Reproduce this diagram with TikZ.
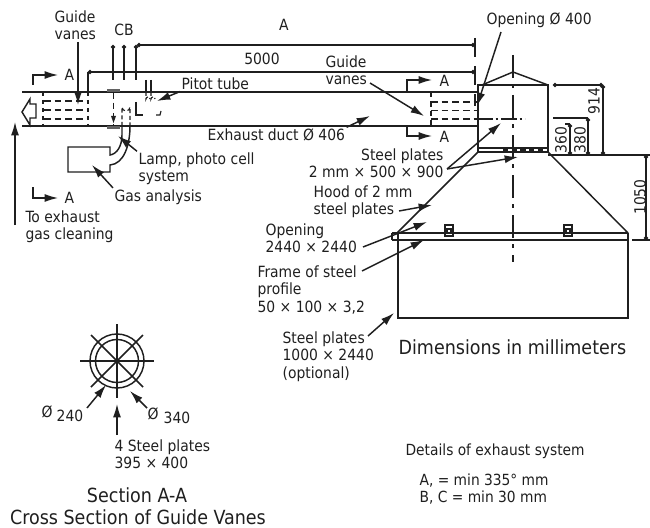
\documentclass[tikz,border=0pt]{standalone}
\usepackage{fontspec}
\setmainfont{DejaVu Sans Condensed}
\usetikzlibrary{arrows.meta}
\colorlet{ink}{black!88}
\tikzset{
 x=0.75pt,y=-0.75pt,
 every node/.style={text=ink,inner sep=1pt},
 line/.style={draw=ink,line width=1.1pt},
 thin line/.style={draw=ink,line width=0.85pt},
 lead/.style={draw=ink,line width=1.1pt,-{Latex[length=10pt,width=6pt]}},
 dim/.style={draw=ink,line width=1.1pt,{Circle[length=3pt]}-{Circle[length=3pt]}},
 vane/.style={draw=ink,line width=1.1pt,dash pattern=on 5pt off 3pt},
 lbl/.style={font=\fontsize{11.6}{13}\selectfont,align=left,anchor=west},
 big/.style={font=\fontsize{14.6}{16}\selectfont,align=center},
 small/.style={font=\fontsize{11.5}{13.2}\selectfont,align=left,anchor=west},
 rot/.style={font=\fontsize{11.6}{13}\selectfont,rotate=90},
}
\begin{document}
\begin{tikzpicture}
\useasboundingbox (0,0) rectangle (650,528);
% duct
\draw[line] (22,92) -- (477,92);
\draw[line] (22,126) -- (477,126);
% exit arrow
\draw[line,line join=miter] (22,112) -- (30,99) -- (30,104) -- (36,104) -- (36,118) -- (30,118) -- (30,125) -- cycle;
\coordinate (c0) at (15,225); \coordinate (c1) at (15,122);
\draw[lead] (c0) -- (c1);
% section arrows
\coordinate (s1) at (58,75); \coordinate (s2) at (58,198); \coordinate (s3) at (432,80); \coordinate (s4) at (432,136);
\draw[lead] (33,85) |- (s1);
\draw[lead] (33,187) |- (s2);
\draw[lead] (407,92) |- (s3);
\draw[lead] (407,126) |- (s4);
\node[lbl] (a1) at (63,75) {A};
\node[lbl] (a2) at (63,198) {A};
\node[lbl] (a3) at (438,81) {A};
\node[lbl] (a4) at (438,137) {A};
% guide vanes left
\foreach \y in {101,110,119} {\draw[vane] (44,\y) -- (88,\y);}
\draw[thin line,dash pattern=on 3pt off 3pt] (43,92) -- (43,126);
\draw[thin line,dash pattern=on 3pt off 3pt] (88,92) -- (88,126);
% guide vanes right
\foreach \y in {102,110.5} {\draw[vane] (431,\y) -- (477,\y);}
\draw[vane] (431,119) -- (477,119);
\draw[thin line,dash pattern=on 4pt off 3pt] (431,92) -- (431,126);
\draw[draw=ink,line width=1.1pt,dash pattern=on 12pt off 2pt on 2pt off 2pt] (477,119) -- (525,119);
% lamp
\fill[ink!70] (107,89) rectangle (120,92);
\fill[ink!70] (107,126) rectangle (120,129);
\draw[thin line,dash pattern=on 5pt off 3pt] (113.5,92) -- (113.5,126);
\fill[ink] (111,116) -- (116,116) -- (113.5,123) -- cycle;
% U tube + gas box
\draw[thin line,dash pattern=on 3pt off 2pt] (122,126) -- (122,107) arc[start angle=180,end angle=0,radius=4] -- (130,126);
\draw[line] (122,126) -- (122,135) .. controls (122,146) and (117,154) .. (110,155) -- (110,147) -- (68,147) -- (68,172) -- (110,172) -- (110,165) .. controls (124,164) and (130,145) .. (130,126);
% pitot
\draw[line] (146,80) -- (146,92);
\draw[line] (151,80) -- (151,92);
\draw[thin line,dash pattern=on 3pt off 1.5pt] (146,92) -- (146,99) arc[start angle=180,end angle=360,radius=2];
\draw[thin line,dash pattern=on 3pt off 1.5pt] (151,92) -- (151,99) arc[start angle=180,end angle=360,radius=2];
\draw[thin line] (136,102) -- (136,115) -- (143,115);
\draw[thin line] (156,115) -- (160,115) -- (161,111);
% dimension lines
\draw[dim] (137,45) -- (475,45);
\draw[dim] (88,72) -- (475,72);
\draw[line] (88,72) -- (88,92);
\foreach \x in {113,124,136} {\draw[line,{Circle[length=3pt]}-] (\x,45) -- (\x,80);}
\draw[thin line,dash pattern=on 14pt off 7pt] (475,38) -- (475,106);
% stack
\draw[line] (478,126) -- (478,85) -- (548,85) -- (548,152) -- (478,152) -- (478,126);
\draw[line] (478,148) -- (548,148);
\draw[line] (482,85) -- (513,72) -- (548,85);
\draw[draw=ink,line width=1.5pt,dash pattern=on 4pt off 2.5pt] (503,150) -- (546,150);
\draw[draw=ink,line width=1.1pt,dash pattern=on 17pt off 5pt on 3pt off 5pt] (513,55) -- (513,262);
% hood
\draw[line] (478,152) -- (397,233);
\draw[line] (548,152) -- (628,233);
\draw[line] (392,233) -- (628,233);
\draw[line] (392,240) -- (628,240);
\draw[line] (392,233) -- (392,240);
\draw[line] (398,233) -- (398,318) -- (628,318) -- (628,233);
\foreach \x in {445,564} {
  \draw[line] (\x,225) rectangle (\x+8,236);
  \draw[thin line] (\x+2,229) rectangle (\x+6,233);
}
% right dimensions
\draw[line] (548,155) -- (650,155);
\draw[dim] (553,85) -- (603,85);
\draw[line,{Circle[length=3pt]}-{Circle[length=3pt]}] (603,85) -- (603,155);
\draw[line] (553,118) -- (588,118);
\draw[line,{Circle[length=3pt]}-{Circle[length=3pt]}] (588,118) -- (588,155);
\draw[line] (565,124) -- (570,124);
\draw[line,{Circle[length=3pt]}-{Circle[length=3pt]}] (570,124) -- (570,155);
\draw[line,{Circle[length=3pt]}-{Circle[length=3pt]}] (646,155) -- (646,240);
\draw[line] (632,240) -- (650,240);
\node[rot] (d914) at (594,101) {914};
\node[rot] (d380) at (580,140) {380};
\node[rot] (d360) at (561,140) {360};
\node[rot] (d1050) at (640,197) {1050};
% labels top
\node[lbl] (gv1) at (53,25.5) {Guide\\vanes};
\coordinate (gv1t) at (78,105);
\draw[lead] (gv1.south -| gv1t) -- (gv1t);
\node[lbl,anchor=center] (cb) at (124,30) {CB};
\node[lbl,anchor=center] (da) at (284,25) {A};
\node[lbl,anchor=center] (d5) at (262,59) {5000};
\node[lbl] (pit) at (180,84) {Pitot tube};
\coordinate (pitt) at (157,101);
\draw[lead] (pit.south west) -- (pitt);
\node[lbl] (duct) at (206,135) {Exhaust duct Ø 406};
\coordinate (ductt) at (370,116);
\draw[lead] (duct.north east) -- (ductt);
\node[lbl] (lamp) at (137,169) {Lamp, photo cell\\system};
\coordinate (lampt) at (118,136);
\draw[lead] (lamp.north west) -- (lampt);
\node[lbl] (gas) at (113,197) {Gas analysis};
\coordinate (gast) at (92,165);
\draw[lead] (gas.north west) -- (gast);
\node[lbl] (tox) at (24,227) {To exhaust\\gas cleaning};
\node[lbl] (op) at (485,20) {Opening Ø 400};
\coordinate (opf) at (501,32); \coordinate (opt) at (477,106);
\draw[lead] (opf) -- (opt);
\node[lbl] (gv2) at (324,70) {Guide\\vanes};
\coordinate (gv2f) at (370,83); \coordinate (gv2t) at (424,116);
\draw[lead] (gv2f) -- (gv2t);
\node[lbl,align=right,anchor=east] (sp) at (445,163.5) {Steel plates\\2 mm × 500 × 900};
\coordinate (spa) at (501,123); \coordinate (spb) at (518,157); \coordinate (spf) at (447,169);
\draw[lead] (spf) -- (spa);
\draw[lead] (spf) -- (spb);
\node[lbl] (hood) at (312,201.5) {Hood of 2 mm\\steel plates};
\coordinate (hoodf) at (399,211); \coordinate (hoodt) at (432,205);
\draw[lead] (hoodf) -- (hoodt);
\node[lbl] (ope) at (264,238.5) {Opening\\2440 × 2440};
\coordinate (opef) at (363,247); \coordinate (opet) at (427,222);
\draw[lead] (opef) -- (opet);
\node[lbl] (fr) at (256,290) {Frame of steel\\profile\\50 × 100 × 3,2};
\coordinate (frf) at (362,271); \coordinate (frt) at (424,240);
\draw[lead] (frf) -- (frt);
\node[lbl] (pl) at (281,356.5) {Steel plates\\1000 × 2440\\(optional)};
\coordinate (plf) at (368,336); \coordinate (plt) at (394,313);
\draw[lead] (plf) -- (plt);
\node[big,anchor=west] (dm) at (397,347) {Dimensions in millimeters};
\node[small] (det) at (404,451) {Details of exhaust system};
\node[small] (ab) at (418,489) {A, = min 335° mm\\B, C = min 30 mm};
% section
\draw[line] (117,361) circle[radius=27];
\draw[line] (117,361) circle[radius=21.5];
\draw[line] (80,361) -- (154,361);
\draw[line] (117,324) -- (117,398);
\draw[line] (91,335) -- (143,387);
\draw[line] (143,335) -- (91,387);
\coordinate (sa) at (106,385); \coordinate (sb) at (117,404); \coordinate (sc) at (130,391);
\node[lbl,anchor=center] (o1) at (47,412) {Ø};
\node[lbl,anchor=center] (o1n) at (70,416) {240};
\node[lbl,anchor=center] (o2) at (153,414) {Ø};
\node[lbl,anchor=center] (o2n) at (177,418) {340};
\coordinate (saf) at (87,408); \coordinate (scf) at (147,408);
\draw[lead] (saf) -- (sa);
\draw[lead] (scf) -- (sc);
\node[lbl] (st) at (113,454) {4 Steel plates\\395 × 400};
\coordinate (stf) at (117,435);
\draw[lead] (stf) -- (sb);
\node[big] (sec) at (137,495) {Section A-A};
\node[big] (cr) at (138,517) {Cross Section of Guide Vanes};
\end{tikzpicture}
\end{document}
